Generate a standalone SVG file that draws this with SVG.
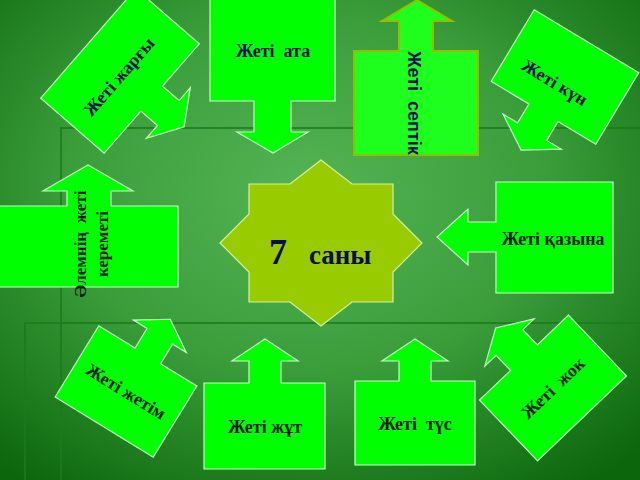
<svg xmlns="http://www.w3.org/2000/svg" width="640" height="480" viewBox="0 0 640 480">
<defs>
<radialGradient id="bg" cx="48%" cy="40%" r="75%">
<stop offset="0" stop-color="#55b455"/>
<stop offset="0.5" stop-color="#3a9d3a"/>
<stop offset="1" stop-color="#0c660c"/>
</radialGradient>
<style>
.box{fill:#00ff00;stroke:#ccffcc;stroke-width:1.2}
.t{font-family:"Liberation Serif","Times New Roman",serif;font-weight:bold;font-size:18px;text-anchor:middle}
.navy{fill:#0d0d55}
.blk{fill:#0a1a0a}
.deco{fill:none;stroke:#1b7a1b;stroke-width:2;opacity:0.8}
</style>
</defs>
<rect width="640" height="480" fill="url(#bg)"/>
<g id="background-frame">
<path class="deco" d="M61,480 V128 H640"/>
<path class="deco" d="M25,480 V323 H640"/>
</g>
<g id="connectors"></g>
<g id="zheti-ata">
<path class="box" d="M210,-2 H335 V101 H291 V132 H308 L273,153 L237,132 H254 V101 H210 Z"/>
<text class="t navy" x="273" y="57">Жеті &#160;ата</text>
</g>
<g id="zheti-septik">
<path d="M354,155 H478 V51 H433 V21 H452 L417,0 L382,21 H399 V51 H354 Z" fill="#1eff1e" stroke="#99bb00" stroke-width="2"/>
<text transform="translate(408,103) rotate(90)" style="font-family:'Liberation Sans',Arial,sans-serif;font-weight:bold;font-size:18px;text-anchor:middle" fill="#0d0d55">Жеті &#160;септік</text>
</g>
<g id="zheti-zhargy" transform="translate(120,71) rotate(-49)">
<path class="box" d="M-72.5,-42 H72.5 V42 H16.5 V64 H33.5 L0,85 L-33.5,64 H-16.5 V42 H-72.5 Z"/>
<text class="t navy" x="-5" y="9">Жеті жарғы</text>
</g>
<g id="zheti-kun" transform="translate(565,77) rotate(31)">
<path class="box" d="M-61,-41.75 H61 V41.75 H17 V63.75 H34 L0,85.25 L-34,63.75 H-17 V41.75 H-61 Z"/>
<text class="t navy" x="-6" y="16">Жеті күн</text>
</g>
<g id="alemnin-zheti-keremeti">
<path class="box" d="M-2,287 H178 V206 H111 V191 H133 L88,165 L43,191 H67 V206 H-2 Z"/>
<text class="t blk" style="font-size:17px" transform="translate(86,244) rotate(-90)"><tspan x="0" y="0">Әлемнің &#160;жеті</tspan><tspan x="0" y="22">кереметі</tspan></text>
</g>
<g id="seven-sany">
<polygon points="321,160 352,184 393,184 393,214 422,243 393,272 393,302 352,302 321,326 290,302 249,302 249,272 220,243 249,214 249,184 290,184" fill="#99cc00" stroke="#d8f0a0" stroke-width="1.2"/>
<text style="font-family:'Liberation Serif','Times New Roman',serif;font-weight:bold" fill="#0d0d55"><tspan x="269" y="264" font-size="36">7</tspan><tspan x="309" y="264" font-size="27">саны</tspan></text>
</g>
<g id="zheti-kazyna">
<path class="box" d="M496,182 H613 V293 H496 V252 H468 V265 L437,237 L468,209 V222 H496 Z"/>
<text class="t blk" x="553" y="245">Жеті қазына</text>
</g>
<g id="zheti-zhetim" transform="translate(126,391.5) rotate(31.5)">
<path class="box" d="M-57.5,41.75 H57.5 V-41.75 H15 V-64.75 H31 L0,-84.75 L-31,-64.75 H-15 V-41.75 H-57.5 Z"/>
<text class="t blk" x="0" y="6">Жеті жетім</text>
</g>
<g id="zheti-zhut">
<path class="box" d="M204,469 H325 V383 H281 V361 H298 L265,339 L232,361 H249 V383 H204 Z"/>
<text class="t blk" x="265" y="433">Жеті жұт</text>
</g>
<g id="zheti-tus">
<path class="box" d="M355,465 H475 V381 H431 V361 H448 L415,339 L382,361 H399 V381 H355 Z"/>
<text class="t blk" x="415" y="430">Жеті &#160;түс</text>
</g>
<g id="zheti-zhok" transform="translate(553,388) rotate(-43.7)">
<path class="box" d="M-61.5,42 H61.5 V-42 H18.5 V-63 H34 L0,-83 L-34,-63 H-18.5 V-42 H-61.5 Z"/>
<text class="t blk" x="0" y="6">Жеті &#160;жок</text>
</g>
</svg>
